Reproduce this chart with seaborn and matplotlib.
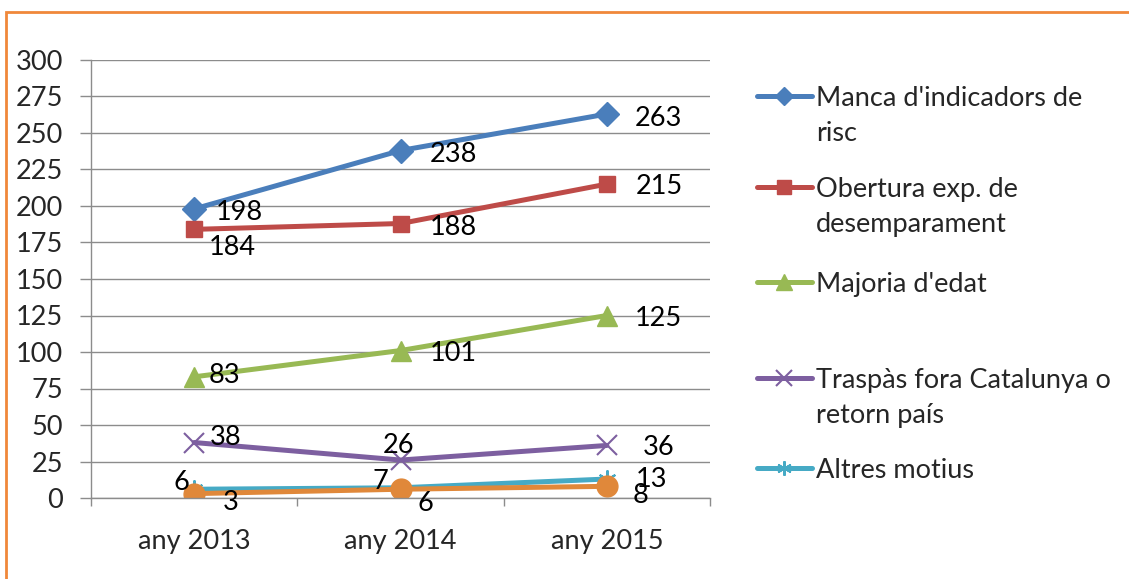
import pandas as pd
import matplotlib.pyplot as plt
import matplotlib.lines as mlines
import matplotlib.patches as mpatches
import seaborn as sns

# Data
years = ["any 2013", "any 2014", "any 2015"]
manca = [198, 238, 263]
obertura = [184, 188, 215]
majoria = [83, 101, 125]
traspas = [38, 26, 36]
altres = [6, 7, 13]
sense_nom = [3, 6, 8]  # orange series, not in the legend

labels = ["Manca d'indicadors de\nrisc", "Obertura exp. de\ndesemparament",
          "Majoria d'edat", "Traspàs fora Catalunya o\nretorn país", "Altres motius", None]
series = [manca, obertura, majoria, traspas, altres, sense_nom]

# Styles
colors = ["#4A7EBB", "#BE4B48", "#98B954", "#7D5FA0", "#46AAC5", "#E0883A"]
markers = ["D", "s", "^", "x", (6, 2, 0), "o"]
msizes = [12, 12, 14, 14, 13, 15]
# label offsets in pixels (dx, dy) for each point
offsets = [
    [(45, -4), (53, -4), (52, -4)],
    [(38, -18), (53, -4), (52, -2)],
    [(30, 1), (53, -3), (52, -3)],
    [(31, 5), (-2, 15), (52, -2)],
    [(-13, 7), (-20, 6), (45, 0)],
    [(37, -9), (25, -14), (34, -9)],
]

sns.set_style("white")
plt.rcParams['font.family'] = ['Lato', 'DejaVu Sans']
FS = 19.5

W, H = 1129, 579
fig = plt.figure(figsize=(W / 100, H / 100), dpi=100)
ax = fig.add_axes([91 / W, 1 - 498 / H, (710 - 91) / W, (498 - 60) / H])

for vals, c, m, ms in zip(series, colors, markers, msizes):
    df = pd.DataFrame({"any": years, "n": vals})
    mew = 1.5 if m in ("x", (6, 2, 0)) else 1
    sns.lineplot(data=df, x="any", y="n", color=c, marker=m, markersize=ms,
                 markeredgecolor=c, markeredgewidth=mew, linewidth=3.6,
                 sort=False, ax=ax)

for vals, offs in zip(series, offsets):
    for i, (v, o) in enumerate(zip(vals, offs)):
        ax.annotate(str(v), xy=(i, v), xytext=o, textcoords="offset pixels",
                    ha="center", va="center", fontsize=FS, color="black")

ax.set_xlim(-0.5, 2.5)
ax.set_ylim(0, 300)
ax.set_yticks(range(0, 301, 25))
ax.set_xticks(range(len(years)))
ax.set_xticklabels(years)
ax.set_xticks([-0.5, 0.5, 1.5, 2.5], minor=True)
ax.set_xlabel("")
ax.set_ylabel("")

grid_c = "#8C8C8C"
ax.yaxis.grid(True, color=grid_c, linewidth=1)
ax.set_axisbelow(True)
for s in ["top", "right"]:
    ax.spines[s].set_visible(False)
for s in ["left", "bottom"]:
    ax.spines[s].set_color(grid_c)
    ax.spines[s].set_linewidth(1)

ax.tick_params(axis="y", left=True, length=8, width=1, color=grid_c,
               pad=12, labelsize=FS)
ax.tick_params(axis="x", which="major", length=0, pad=22, labelsize=FS)
ax.tick_params(axis="x", which="minor", bottom=True, length=6, width=1,
               color=grid_c)

# Legend drawn by hand to match the spacing of the original
leg_y = [96, 187, 282, 378, 468]
for lab, c, m, ms, y in zip(labels, colors, markers, msizes, leg_y):
    if lab is None:
        continue
    fy = 1 - y / H
    mew = 1.5 if m in ("x", (6, 2, 0)) else 1
    fig.add_artist(mlines.Line2D([757 / W, 812 / W], [fy, fy], color=c,
                                 linewidth=3.6))
    fig.add_artist(mlines.Line2D([784 / W], [fy], color=c, marker=m,
                                 markersize=ms * 0.8, markeredgecolor=c,
                                 markeredgewidth=mew, linestyle="none"))
    fig.text(816 / W, 1 - (y - 10) / H, lab, ha="left", va="top",
             fontsize=FS, linespacing=1.5)

# Orange frame (left and top edges visible)
fig.add_artist(mpatches.Rectangle((6 / W, -0.1), 1.2, 1.1 - 12 / H,
                                  fill=False, edgecolor="#F0883A",
                                  linewidth=2, transform=fig.transFigure,
                                  clip_on=False))

fig.savefig("out.png", dpi=100)
